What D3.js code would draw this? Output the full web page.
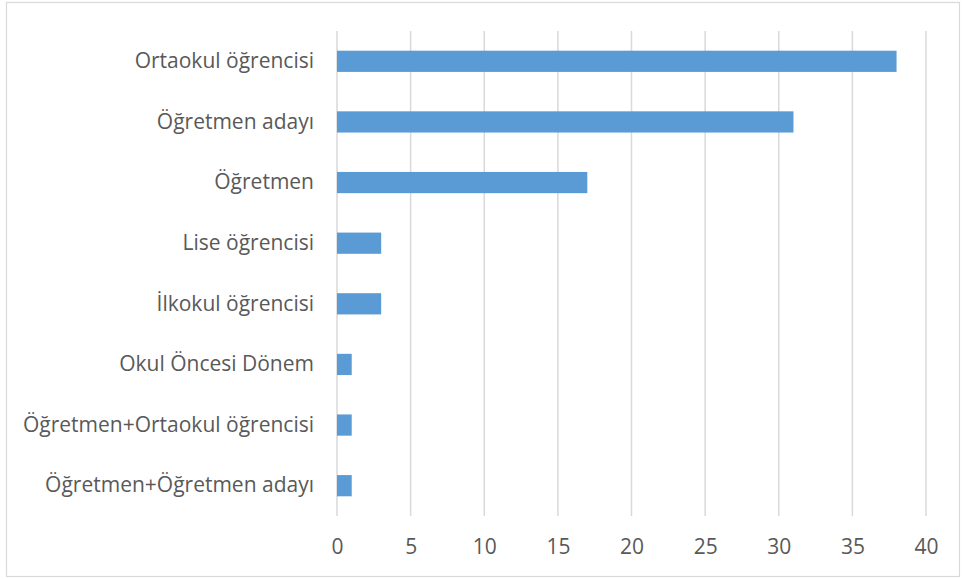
<!DOCTYPE html>
<html lang="tr">
<head>
    <meta charset="UTF-8">
    <title>Katılımcılar</title>
    <script src="https://d3js.org/d3.v7.min.js"></script>
    <style>
        body {margin: 0; background: #fff;}
        text {
            font-family: "Open Sans", "Noto Sans", sans-serif;
            fill: #595959;
        }
    </style>
</head>
<body>
<script>
    const width = 963;
    const height = 579;

    // data
    const categories = [
        "Ortaokul öğrencisi",
        "Öğretmen adayı",
        "Öğretmen",
        "Lise öğrencisi",
        "İlkokul öğrencisi",
        "Okul Öncesi Dönem",
        "Öğretmen+Ortaokul öğrencisi",
        "Öğretmen+Öğretmen adayı"
    ];
    const values = [38, 31, 17, 3, 3, 1, 1, 1];
    const ticks = [0, 5, 10, 15, 20, 25, 30, 35, 40];

    const margin = {top: 31, right: 37, bottom: 63, left: 337};

    const svg = d3.select("body").append("svg")
            .attr("width", width).attr("height", height);

    // outer chart frame
    svg.append("rect")
            .attr("x", 6.5).attr("y", 2.5)
            .attr("width", 953).attr("height", 574)
            .style("fill", "none")
            .style("stroke", "#d9d9d9")
            .style("stroke-width", 1.2);

    const x = d3.scaleLinear()
            .domain([0, 40])
            .range([margin.left, width - margin.right]);

    const y = d3.scaleBand()
            .domain(categories)
            .range([margin.top, height - margin.bottom])
            .paddingInner(0.65)
            .paddingOuter(0.325);

    // gridlines
    svg.append("g").attr("class", "grid")
            .selectAll("line")
            .data(ticks)
            .enter()
            .append("line")
            .attr("x1", d => x(d)).attr("x2", d => x(d))
            .attr("y1", margin.top).attr("y2", height - margin.bottom)
            .style("stroke", "#d9d9d9")
            .style("stroke-width", 1.5);

    // bars
    svg.selectAll("rect.bar")
            .data(values)
            .enter()
            .append("rect")
            .attr("class", "bar")
            .attr("x", x(0))
            .attr("y", (d, i) => y(categories[i]))
            .attr("width", d => x(d) - x(0))
            .attr("height", y.bandwidth())
            .style("fill", "#5b9bd5");

    // x axis labels
    const xAxis = d3.axisBottom(x).tickValues(ticks).tickSize(0).tickPadding(23);
    const gx = svg.append("g")
            .attr("transform", `translate(0,${height - margin.bottom})`)
            .call(xAxis);
    gx.select(".domain").remove();
    gx.selectAll("text")
            .style("font-size", "21px")
            .style("fill", "#595959");

    // y axis labels
    const yAxis = d3.axisLeft(y).tickSize(0).tickPadding(23);
    const gy = svg.append("g")
            .attr("transform", `translate(${margin.left},0)`)
            .call(yAxis);
    gy.select(".domain").remove();
    gy.selectAll("text")
            .style("font-size", "21px")
            .style("fill", "#595959");
</script>
</body>
</html>
